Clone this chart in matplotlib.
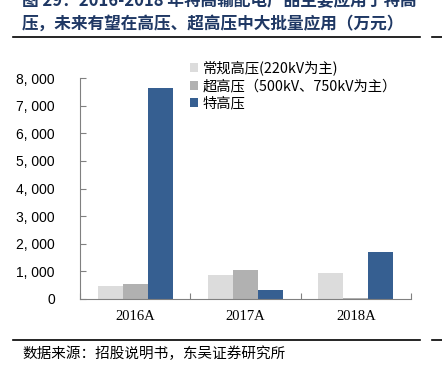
import matplotlib
matplotlib.use("Agg")
import matplotlib.pyplot as plt
from matplotlib.ticker import FuncFormatter
import numpy as np

plt.rcParams['font.family'] = ['Noto Sans CJK SC', 'DejaVu Sans']

years = ['2016A', '2017A', '2018A']
regular = [480, 880, 950]
extra_high = [560, 1050, 50]
ultra_high = [7630, 330, 1690]
series_names = ['常规高压(220kV为主)', '超高压（500kV、750kV为主）', '特高压']
colors = ['#dcdcdc', '#b1b1b1', '#365f91']

fig = plt.figure(figsize=(4.42, 3.65), dpi=100)
ax = fig.add_axes([80 / 442, 1 - 299 / 365, 331 / 442, 221 / 365])

x = np.arange(len(years))
w = 0.227
for i, (vals, name, c) in enumerate(zip([regular, extra_high, ultra_high], series_names, colors)):
    ax.bar(x + (i - 1) * w, vals, width=w, color=c, label=name, zorder=2)

ax.set_xlim(-0.5, 2.5)
ax.set_ylim(0, 8000)
ax.set_yticks(range(0, 8001, 1000))
ax.yaxis.set_major_formatter(FuncFormatter(lambda v, p: f'{int(v):,}'.replace(',', ', ')))
ax.set_xticks([-0.5, 0.5, 1.5, 2.5], minor=False)
ax.set_xticklabels([])
ax.set_xticks(x, minor=True)
ax.set_xticklabels(years, minor=True, family='Liberation Serif', fontsize=10.5)
ax.tick_params(axis='x', which='minor', length=0, pad=8)
ax.tick_params(axis='x', which='major', length=4, color='#808080', direction='in')
ax.tick_params(axis='y', length=4, color='#808080', direction='in', pad=18)
for lab in ax.get_yticklabels():
    lab.set_family('Liberation Sans')
    lab.set_fontsize(10)
for s in ['top', 'right']:
    ax.spines[s].set_visible(False)
for s in ['left', 'bottom']:
    ax.spines[s].set_color('#808080')

ax.legend(loc='upper left', bbox_to_anchor=(104 / 331, 1.104), frameon=False, fontsize=10.3,
          handlelength=0.6, handleheight=0.6, handletextpad=0.3, labelspacing=0.25,
          borderaxespad=0)

# title (first line cut off at top, as in the source page)
fig.text(22 / 442, 1 - 1 / 365, '图 29：2016-2018 年特高输配电产品主要应用于特高',
         fontsize=12, va='center', ha='left', color='#1f3864', fontweight='bold')
fig.text(22 / 442, 1 - 24 / 365, '压，未来有望在高压、超高压中大批量应用（万元）',
         fontsize=12, va='center', ha='left', color='#1f3864', fontweight='bold')
for y in (37, 340):
    fig.add_artist(plt.Line2D([13 / 442, 420 / 442], [1 - y / 365] * 2, color='black', lw=1.2))
    fig.add_artist(plt.Line2D([432 / 442, 442 / 442], [1 - y / 365] * 2, color='black', lw=1.2))
fig.text(22 / 442, 1 - 354 / 365, '数据来源：招股说明书，东吴证券研究所',
         fontsize=10.5, va='center', ha='left', color='black')

fig.savefig('out.png', dpi=100)
